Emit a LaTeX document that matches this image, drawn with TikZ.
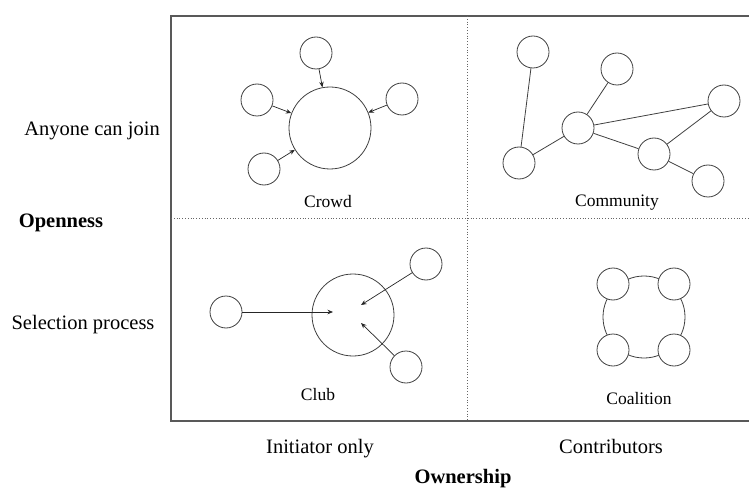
\documentclass[tikz,border=0pt]{standalone}
\usepackage{fontspec}
\setmainfont{Liberation Serif}
\usetikzlibrary{arrows.meta}
\begin{document}
\begin{tikzpicture}[x=1pt,y=-1pt,
  sc/.style={circle,draw=black!75,line width=0.8pt,minimum size=32pt,inner sep=0pt,fill=white},
  bc/.style={circle,draw=black!75,line width=0.8pt,minimum size=82pt,inner sep=0pt},
  link/.style={draw=black!75,line width=0.8pt},
  arr/.style={draw=black!85,line width=0.7pt,-{Stealth[length=5.5pt,width=4.5pt]}},
  frame/.style={draw=black!65,line width=1.3pt},
  sep/.style={draw=black!60,line width=0.8pt,dotted},
  axis/.style={font=\fontsize{20.5}{24}\selectfont,inner sep=0pt,text height=14pt,text depth=4pt},
  axisb/.style={font=\fontsize{20.5}{24}\selectfont\bfseries,inner sep=0pt,text height=14pt,text depth=4pt},
  qlab/.style={font=\fontsize{17.5}{20}\selectfont,inner sep=0pt,text height=12pt,text depth=3.5pt}]
\useasboundingbox (0,0) rectangle (749,489);
% frame
\coordinate (ftr) at (749,16);
\coordinate (ftl) at (171,16);
\coordinate (fbl) at (171,421);
\coordinate (fbr) at (749,421);
\draw[frame] (ftr) -- (ftl) -- (fbl) -- (fbr);
\coordinate (vt) at (467,16);
\coordinate (vb) at (467,421);
\coordinate (hl) at (171,218);
\coordinate (hr) at (749,218);
\draw[sep] (vt) -- (vb);
\draw[sep] (hl) -- (hr);
% axis labels
\node[axis] (aj) at (92,131) {Anyone can join};
\node[axisb] (op) at (61,222) {Openness};
\node[axis] (sp) at (83,324) {Selection process};
\node[axis] (io) at (320,448) {Initiator only};
\node[axis] (co) at (611,448) {Contributors};
\node[axisb] (ow) at (463,478) {Ownership};
% Crowd
\node[bc] (cr) at (330,128) {};
\node[sc] (cr1) at (316,53) {};
\node[sc] (cr2) at (257,100) {};
\node[sc] (cr3) at (402,99) {};
\node[sc] (cr4) at (264,169) {};
\draw[arr] (cr1) -- (cr);
\draw[arr] (cr2) -- (cr);
\draw[arr] (cr3) -- (cr);
\draw[arr] (cr4) -- (cr);
\node[qlab] (crl) at (328,203) {Crowd};
% Community
\node[sc] (ca) at (533,52) {};
\node[sc] (cb) at (617,69) {};
\node[sc] (cc) at (724,101) {};
\node[sc] (cd) at (578,128) {};
\node[sc] (ce) at (519,163) {};
\node[sc] (cf) at (654,154) {};
\node[sc] (cg) at (708,181) {};
\draw[link] (ca) -- (ce);
\draw[link] (ce) -- (cd);
\draw[link] (cd) -- (cb);
\draw[link] (cd) -- (cc);
\draw[link] (cd) -- (cf);
\draw[link] (cf) -- (cc);
\draw[link] (cf) -- (cg);
\node[qlab] (cml) at (617,202) {Community};
% Club
\node[bc] (cl) at (353,315) {};
\node[sc] (cl1) at (226,312) {};
\node[sc] (cl2) at (426,264) {};
\node[sc] (cl3) at (406,367) {};
\coordinate (ce1) at (333,312);
\coordinate (ce2) at (361,305);
\coordinate (ce3) at (361,323);
\draw[arr] (cl1) -- (ce1);
\draw[arr] (cl2) -- (ce2);
\draw[arr] (cl3) -- (ce3);
\node[qlab] (cll) at (318,396) {Club};
% Coalition
\node[bc] (cob) at (644,317) {};
\node[sc] (co1) at (613,284) {};
\node[sc] (co2) at (674,284) {};
\node[sc] (co3) at (613,350) {};
\node[sc] (co4) at (674,350) {};
\node[qlab] (col) at (639,400) {Coalition};
\end{tikzpicture}
\end{document}
